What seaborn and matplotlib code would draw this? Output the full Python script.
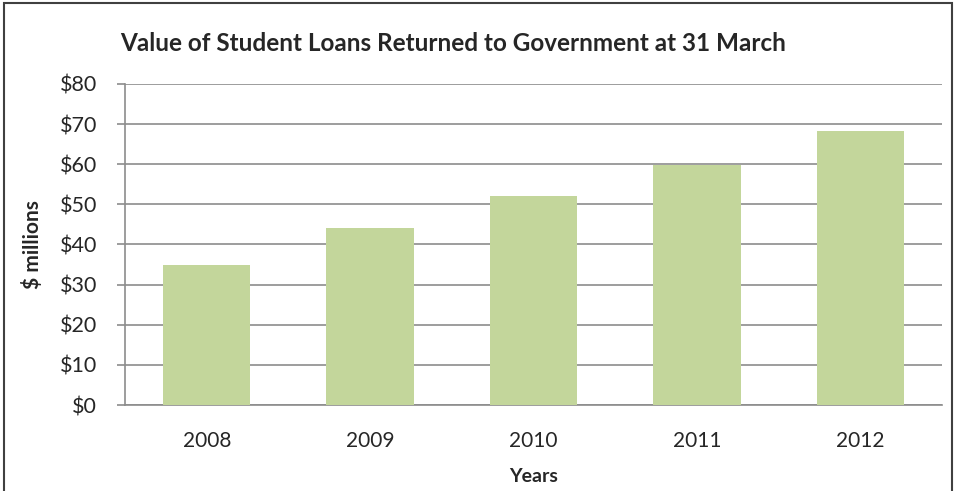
import matplotlib
matplotlib.use("Agg")
import matplotlib.pyplot as plt
import seaborn as sns
import pandas as pd
from matplotlib.patches import Rectangle

years = ["2008", "2009", "2010", "2011", "2012"]
values = [34.8, 44.2, 52.0, 59.8, 68.3]
y_ticks = [0, 10, 20, 30, 40, 50, 60, 70, 80]
y_labels = ["$0", "$10", "$20", "$30", "$40", "$50", "$60", "$70", "$80"]

sns.set_theme(style="white")
plt.rcParams['font.family'] = ['Lato', 'DejaVu Sans']

df = pd.DataFrame({"Year": years, "Value": values})

fig = plt.figure(figsize=(9.56, 4.91), dpi=100)
ax = fig.add_axes([125/956, 1-405/491, (942-125)/956, (405-84)/491])

sns.barplot(data=df, x="Year", y="Value", color="#C3D69B", saturation=1,
            width=0.535, ax=ax, zorder=3, linewidth=0)

ax.set_ylim(0, 80)
ax.set_xlim(-0.5, 4.5)
ax.set_yticks(y_ticks)
ax.set_yticklabels(y_labels, fontsize=15.5)
ax.yaxis.grid(True, color="#8C8C8C", linewidth=1.2, zorder=0)
ax.set_axisbelow(True)
for s in ["top", "right"]:
    ax.spines[s].set_visible(False)
for s in ["left", "bottom"]:
    ax.spines[s].set_color("#8C8C8C")
    ax.spines[s].set_linewidth(1.2)

ax.set_xticks(range(5))
ax.set_xticklabels(years, fontsize=15)
ax.tick_params(axis="x", which="major", length=0, pad=19)
ax.set_xticks([-0.5, 0.5, 1.5, 2.5, 3.5, 4.5], minor=True)
ax.tick_params(axis="x", which="minor", length=6, color="#8C8C8C", width=1.2, direction="out")
ax.tick_params(axis="y", length=6, color="#8C8C8C", width=1.2, direction="out", left=True, pad=14)

ax.set_xlabel("Years", fontsize=14, fontweight="bold", labelpad=12)
ax.set_ylabel("$ millions", fontsize=15, fontweight="bold", labelpad=12)

fig.text(0.474, 0.912, "Value of Student Loans Returned to Government at 31 March",
         ha="center", va="center", fontsize=17.5, fontweight="bold")

fig.patches.append(Rectangle((4/956, -0.05), (952-4)/956, 1.05 - 3/491,
                             transform=fig.transFigure, fill=False,
                             edgecolor="#404040", linewidth=1.5))

fig.savefig("out.png", dpi=100)
